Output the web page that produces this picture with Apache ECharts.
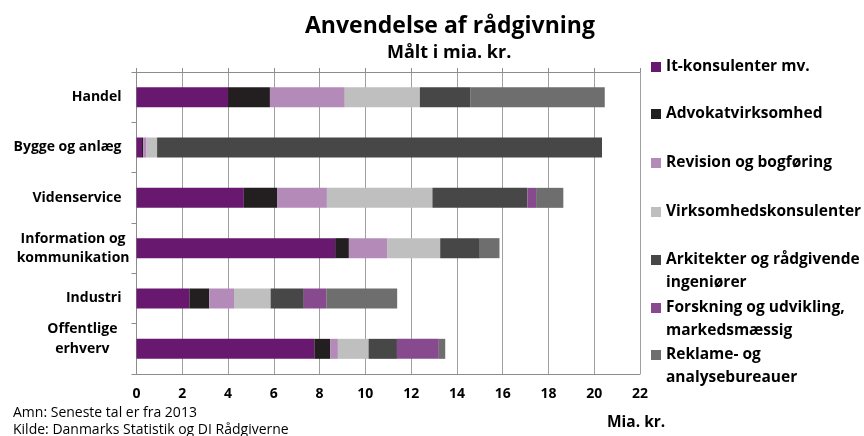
<!DOCTYPE html>
<html>
<head>
<meta charset="utf-8">
<script src="https://cdn.jsdelivr.net/npm/echarts@6/dist/echarts.min.js"></script>
<style>
  html, body { margin: 0; padding: 0; background: #fff; }
  #chart { width: 864px; height: 436px; }
</style>
</head>
<body>
<div id="chart"></div>
<script>
const categories = ['Handel', 'Bygge og anlæg', 'Videnservice', 'Information og\nkommunikation', 'Industri', 'Offentlige\nerhverv']
const seriesNames = ['It-konsulenter mv.', 'Advokatvirksomhed', 'Revision og bogføring', 'Virksomhedskonsulenter',
  'Arkitekter og rådgivende ingeniører', 'Forskning og udvikling, markedsmæssig', 'Reklame- og analysebureauer']
const legendLabels = ['It-konsulenter mv.', 'Advokatvirksomhed', 'Revision og bogføring', 'Virksomhedskonsulenter',
  'Arkitekter og rådgivende\ningeniører', 'Forskning og udvikling,\nmarkedsmæssig', 'Reklame- og\nanalysebureauer']
const colors = ['#69186f', '#231f20', '#b48ab8', '#bfbfbf', '#474747', '#884a8f', '#6e6e6e']

const itValues = [4.0, 0.24, 4.69, 8.68, 2.31, 7.77]
const advValues = [1.83, 0.05, 1.45, 0.6, 0.87, 0.69]
const revValues = [3.27, 0.15, 2.18, 1.67, 1.08, 0.34]
const virkValues = [3.28, 0.46, 4.61, 2.32, 1.6, 1.34]
const arkValues = [2.22, 19.44, 4.15, 1.73, 1.45, 1.24]
const forskValues = [0, 0, 0.38, 0, 0.98, 1.83]
const rekValues = [5.86, 0, 1.19, 0.86, 3.1, 0.28]
const allValues = [itValues, advValues, revValues, virkValues, arkValues, forskValues, rekValues]

const xTicks = { min: 0, max: 22, interval: 2 }

const font = 'Open Sans'
const chart = echarts.init(document.getElementById('chart'))

// one legend per entry so every first line sits where the original has it;
// two-line entries get a blank line on top so the square lines up with line one
const legendFirstLine = [67, 114, 163, 212, 260, 308, 355]
const legends = seriesNames.map((name, i) => {
  const twoLines = legendLabels[i].indexOf('\n') >= 0
  return {
    data: [name],
    left: 651,
    top: twoLines ? legendFirstLine[i] - 34.5 : legendFirstLine[i] - 11.5,
    padding: 0,
    orient: 'vertical',
    icon: 'rect',
    itemWidth: 10,
    itemHeight: 10,
    itemGap: 5,
    selectedMode: false,
    formatter: () => twoLines ? '\u00a0\n' + legendLabels[i] : legendLabels[i],
    textStyle: {
      fontFamily: font,
      fontWeight: 'bold',
      fontSize: 15.5,
      color: '#000',
      lineHeight: 23
    }
  }
})

const yLabel = (v) => {
  if (v.startsWith('Information')) return v.split('\n').map(l => '{c|' + l + '}').join('\n')
  if (v.startsWith('Offentlige')) return v.split('\n').map(l => '{o|' + l + '}').join('\n') + '\n{o|\u00a0}'
  return '{r|' + v + '}'
}

const option = {
  animation: false,
  color: colors,
  title: [
    { text: 'Anvendelse af rådgivning', left: 305, top: 15, padding: 0,
      textStyle: { fontFamily: font, fontWeight: 'bold', fontSize: 23, color: '#000' } },
    { text: 'Målt i mia. kr.', left: 387, top: 44, padding: 0,
      textStyle: { fontFamily: font, fontWeight: 'bold', fontSize: 18, color: '#000' } },
    { text: 'Amn: Seneste tal er fra 2013', left: 13, top: 406, padding: 0,
      textStyle: { fontFamily: font, fontWeight: 'normal', fontSize: 14, color: '#000' } },
    { text: 'Kilde: Danmarks Statistik og DI Rådgiverne', left: 13, top: 423, padding: 0,
      textStyle: { fontFamily: font, fontWeight: 'normal', fontSize: 14, color: '#000' } },
    { text: 'Mia. kr.', left: 607, top: 415, padding: 0,
      textStyle: { fontFamily: font, fontWeight: 'bold', fontSize: 15.5, color: '#000' } }
  ],
  legend: legends,
  grid: { left: 136.5, right: 224, top: 72, bottom: 62 },
  xAxis: [
    {
      type: 'value', position: 'bottom',
      min: xTicks.min, max: xTicks.max, interval: xTicks.interval,
      axisLine: { show: true, lineStyle: { color: '#8c8c8c' } },
      axisTick: { show: false },
      axisLabel: { margin: 13, fontFamily: font, fontWeight: 'bold', fontSize: 14, color: '#000' },
      splitLine: { show: true, lineStyle: { color: '#a0a0a0', width: 1 } }
    },
    {
      type: 'value', position: 'top',
      min: xTicks.min, max: xTicks.max, interval: xTicks.interval,
      axisLine: { show: true, lineStyle: { color: '#8c8c8c' } },
      axisTick: { show: true, length: 4, lineStyle: { color: '#8c8c8c' } },
      axisLabel: { show: false },
      splitLine: { show: false }
    }
  ],
  yAxis: {
    type: 'category',
    data: categories,
    inverse: true,
    axisLine: { show: true, lineStyle: { color: '#8c8c8c' } },
    axisTick: { show: true, length: 5, lineStyle: { color: '#8c8c8c' } },
    axisLabel: {
      align: 'right',
      margin: 7,
      formatter: yLabel,
      fontFamily: font, fontWeight: 'bold', fontSize: 14, color: '#000',
      rich: {
        r: { fontFamily: font, fontWeight: 'bold', fontSize: 14, padding: [0, 8, 0, 0] },
        c: { fontFamily: font, fontWeight: 'bold', fontSize: 14, align: 'center', lineHeight: 19 },
        o: { fontFamily: font, fontWeight: 'bold', fontSize: 14, align: 'center', lineHeight: 20, padding: [0, 12, 0, 0] }
      }
    }
  },
  series: seriesNames.map((name, i) => ({
    name: name,
    type: 'bar',
    stack: 'total',
    barWidth: 20,
    data: allValues[i],
    itemStyle: { color: colors[i] }
  }))
}

chart.setOption(option)
</script>
</body>
</html>
